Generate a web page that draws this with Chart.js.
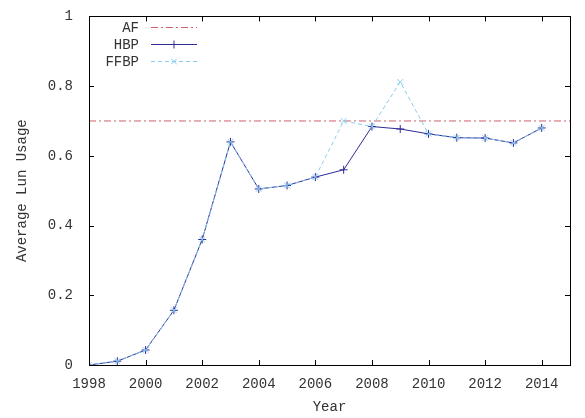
<!DOCTYPE html>
<html><head><meta charset="utf-8">
<script src="https://cdn.jsdelivr.net/npm/chart.js@4/dist/chart.umd.min.js"></script>
<style>html,body{margin:0;padding:0;background:#fff}#wrap{width:585px;height:418px}</style>
</head><body><div id="wrap"><canvas id="c" width="585" height="418"></canvas></div>
<script>
const years = [1998,1999,2000,2001,2002,2003,2004,2005,2006,2007,2008,2009,2010,2011,2012,2013,2014];
const hbp   = [0.000,0.011,0.043,0.157,0.360,0.640,0.505,0.515,0.539,0.560,0.684,0.677,0.663,0.652,0.651,0.637,0.680];
const ffbp  = [0.000,0.011,0.043,0.157,0.360,0.640,0.505,0.515,0.539,0.700,0.684,0.812,0.663,0.652,0.651,0.637,0.680];
const afLevel = 0.7;
const xRange = [1998, 2015];
const yRange = [0, 1];
const xTickValues = [1998,2000,2002,2004,2006,2008,2010,2012,2014];
const yTickValues = [0,0.2,0.4,0.6,0.8,1];
const seriesNames = ['AF','HBP','FFBP'];
const xTitle = 'Year';
const yTitle = 'Average Lun Usage';

const FONT = 'Liberation Mono';
const TEXT = '#333';
const colAF = '#d0606e';
const colHBP = '#302c96';
const colFF = '#87cdf0';

const frameTicks = {
  id: 'frameTicks',
  afterDraw(chart) {
    const {ctx, chartArea: a, scales: {x, y}} = chart;
    ctx.save();
    ctx.strokeStyle = '#000';
    ctx.lineWidth = 1;
    ctx.setLineDash([]);
    ctx.beginPath();
    const L = 5;
    xTickValues.forEach(v => {
      const px = Math.round(x.getPixelForValue(v)) + 0.5;
      ctx.moveTo(px, a.bottom); ctx.lineTo(px, a.bottom - L);
      ctx.moveTo(px, a.top); ctx.lineTo(px, a.top + L);
    });
    yTickValues.forEach(v => {
      const py = Math.round(y.getPixelForValue(v)) + 0.5;
      ctx.moveTo(a.left, py); ctx.lineTo(a.left + L, py);
      ctx.moveTo(a.right, py); ctx.lineTo(a.right - L, py);
    });
    ctx.stroke();
    ctx.strokeRect(Math.round(a.left) + 0.5, Math.round(a.top) + 0.5,
                   Math.round(a.right - a.left), Math.round(a.bottom - a.top));

    // legend (gnuplot style)
    const rows = [
      {label: seriesNames[0], color: colAF, dash: [7,3,2,3], marker: null},
      {label: seriesNames[1], color: colHBP, dash: [], marker: 'cross'},
      {label: seriesNames[2], color: colFF, dash: [4,3], marker: 'crossRot'}
    ];
    ctx.font = '14px "' + FONT + '"';
    ctx.textAlign = 'right';
    ctx.textBaseline = 'middle';
    rows.forEach((r, i) => {
      const yy = 27.5 + i * 17;
      ctx.fillStyle = TEXT;
      ctx.fillText(r.label, 139, yy + 1);
      ctx.strokeStyle = r.color;
      ctx.lineWidth = 1;
      ctx.setLineDash(r.dash);
      ctx.beginPath(); ctx.moveTo(151, yy); ctx.lineTo(197, yy); ctx.stroke();
      ctx.setLineDash([]);
      if (r.marker) {
        Chart.helpers.drawPoint(ctx, {pointStyle: r.marker, radius: 4, borderWidth: 1}, 174, yy);
      }
    });
    ctx.restore();
  }
};

new Chart(document.getElementById('c'), {
  type: 'line',
  data: {
    datasets: [
      {
        label: seriesNames[2],
        data: years.map((yr, i) => ({x: yr, y: ffbp[i]})),
        borderColor: colFF, borderWidth: 1, borderDash: [4,3],
        pointStyle: 'crossRot', pointRadius: 4, pointBorderColor: colFF, pointBorderWidth: 1,
        pointBackgroundColor: colFF, fill: false, tension: 0, order: 0
      },
      {
        label: seriesNames[1],
        data: years.map((yr, i) => ({x: yr, y: hbp[i]})),
        borderColor: colHBP, borderWidth: 1,
        pointStyle: 'cross', pointRadius: 4, pointBorderColor: colHBP, pointBorderWidth: 1,
        pointBackgroundColor: colHBP, fill: false, tension: 0, order: 1
      },
      {
        label: seriesNames[0],
        data: [{x: xRange[0], y: afLevel}, {x: xRange[1], y: afLevel}],
        borderColor: colAF, borderWidth: 1, borderDash: [7,3,2,3],
        pointRadius: 0, fill: false, tension: 0, order: 2
      }
    ]
  },
  options: {
    responsive: false,
    devicePixelRatio: 1,
    animation: false,
    layout: {padding: {left: 0, right: 15, top: 14, bottom: 0}},
    plugins: {legend: {display: false}, tooltip: {enabled: false}},
    scales: {
      x: {
        type: 'linear', min: xRange[0], max: xRange[1],
        grid: {display: false}, border: {display: false},
        afterBuildTicks: s => { s.ticks = xTickValues.map(v => ({value: v})); },
        afterFit: s => { s.height = 53; },
        ticks: {font: {family: FONT, size: 14}, color: TEXT, padding: 3, maxRotation: 0, autoSkip: false,
                callback: v => String(v)},
        title: {display: true, text: xTitle, font: {family: FONT, size: 14}, color: TEXT, padding: {top: 0, bottom: 2}}
      },
      y: {
        type: 'linear', min: yRange[0], max: yRange[1],
        grid: {display: false}, border: {display: false},
        afterBuildTicks: s => { s.ticks = yTickValues.map(v => ({value: v})); },
        afterFit: s => { s.width = 89; },
        ticks: {font: {family: FONT, size: 14}, color: TEXT, padding: 8, callback: v => String(v)},
        title: {display: true, text: yTitle, font: {family: FONT, size: 14}, color: TEXT, padding: {top: 14, bottom: 0}}
      }
    }
  },
  plugins: [frameTicks]
});
</script>
</body></html>
